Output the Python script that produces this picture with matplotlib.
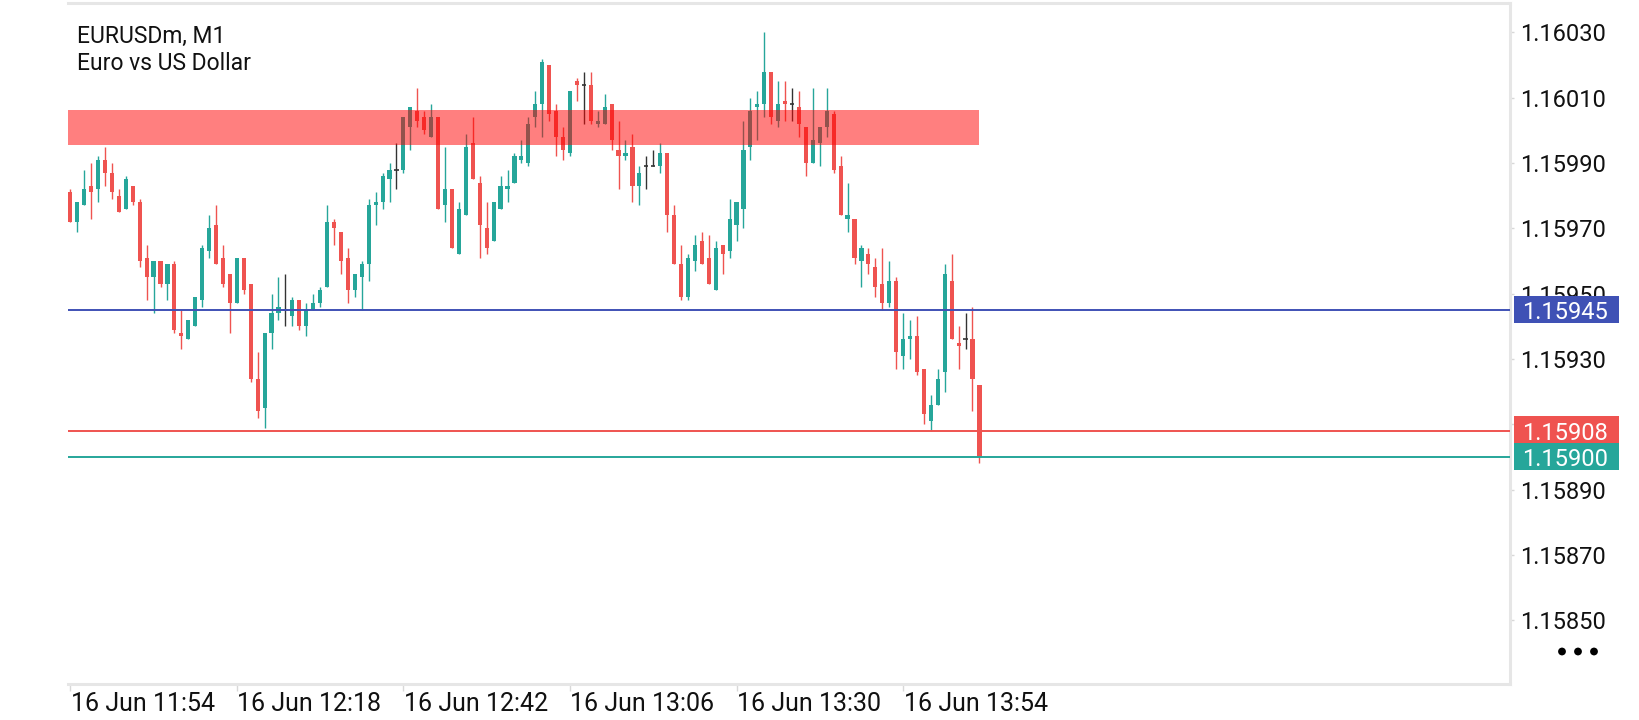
import matplotlib
matplotlib.use("Agg")
import matplotlib.pyplot as plt
import matplotlib.transforms as mtransforms
from matplotlib.patches import Rectangle, Circle
import numpy as np

plt.rcParams['font.family'] = ['Roboto', 'DejaVu Sans']

# ---------------- data ----------------
title_line1 = "EURUSDm, M1"
title_line2 = "Euro vs US Dollar"

open_ = [1.15981, 1.15972, 1.15977, 1.15983, 1.15982, 1.15991, 1.15987, 1.15980, 1.15976, 1.15983,
         1.15978, 1.15961, 1.15955, 1.15960, 1.15953, 1.15959, 1.15938, 1.15936, 1.15940, 1.15948,
         1.15963, 1.15971, 1.15961, 1.15956, 1.15947, 1.15961, 1.15953, 1.15924, 1.15915, 1.15938,
         1.15944, 1.15945, 1.15943, 1.15948, 1.15940, 1.15945, 1.15947, 1.15952, 1.15972, 1.15969,
         1.15961, 1.15951, 1.15955, 1.15959, 1.15977, 1.15978, 1.15985, 1.15988, 1.15988, 1.16001,
         1.16006, 1.16004, 1.15998, 1.16004, 1.15977, 1.15982, 1.15962, 1.15974, 1.15996, 1.15984,
         1.15970, 1.15966, 1.15976, 1.15982, 1.15984, 1.15991, 1.15990, 1.16004, 1.16008, 1.16020,
         1.16006, 1.15998, 1.15993, 1.16015, 1.16014, 1.16014, 1.16002, 1.16002, 1.16008, 1.15994,
         1.15992, 1.15995, 1.15983, 1.15989, 1.15989, 1.15989, 1.15993, 1.15974, 1.15959, 1.15949,
         1.15960, 1.15966, 1.15961, 1.15951, 1.15965, 1.15963, 1.15971, 1.15976, 1.15995, 1.16007,
         1.16008, 1.16018, 1.16003, 1.16009, 1.16008, 1.16007, 1.16001, 1.15990, 1.15996, 1.16001,
         1.16005, 1.15989, 1.15973, 1.15973, 1.15960, 1.15962, 1.15958, 1.15953, 1.15947, 1.15954,
         1.15931, 1.15936, 1.15937, 1.15927, 1.15911, 1.15916, 1.15926, 1.15954, 1.15935, 1.15936,
         1.15936, 1.15922]

high = [1.15982, 1.15978, 1.15988, 1.15990, 1.15992, 1.15995, 1.15990, 1.15982, 1.15986, 1.15983,
        1.15979, 1.15965, 1.15960, 1.15960, 1.15959, 1.15960, 1.15945, 1.15942, 1.15949, 1.15965,
        1.15974, 1.15977, 1.15965, 1.15956, 1.15961, 1.15961, 1.15953, 1.15932, 1.15938, 1.15950,
        1.15955, 1.15956, 1.15949, 1.15948, 1.15947, 1.15950, 1.15952, 1.15977, 1.15973, 1.15969,
        1.15964, 1.15956, 1.15960, 1.15979, 1.15981, 1.15987, 1.15990, 1.15996, 1.16004, 1.16007,
        1.16013, 1.16006, 1.16008, 1.16004, 1.15995, 1.15982, 1.15978, 1.15999, 1.16004, 1.15986,
        1.15978, 1.15978, 1.15986, 1.15988, 1.15993, 1.15997, 1.16004, 1.16012, 1.16022, 1.16020,
        1.16008, 1.16001, 1.16012, 1.16016, 1.16018, 1.16018, 1.16006, 1.16011, 1.16008, 1.16003,
        1.15997, 1.15999, 1.15989, 1.15992, 1.15994, 1.15996, 1.15993, 1.15977, 1.15965, 1.15962,
        1.15968, 1.15969, 1.15968, 1.15966, 1.15965, 1.15979, 1.15978, 1.16003, 1.16010, 1.16012,
        1.16030, 1.16018, 1.16015, 1.16015, 1.16013, 1.16012, 1.16001, 1.16013, 1.16001, 1.16013,
        1.16006, 1.15992, 1.15984, 1.15973, 1.15965, 1.15964, 1.15961, 1.15964, 1.15960, 1.15955,
        1.15944, 1.15942, 1.15943, 1.15927, 1.15919, 1.15927, 1.15959, 1.15962, 1.15940, 1.15944,
        1.15946, 1.15922]

low = [1.15972, 1.15969, 1.15977, 1.15973, 1.15978, 1.15983, 1.15979, 1.15975, 1.15976, 1.15977,
       1.15958, 1.15948, 1.15944, 1.15952, 1.15948, 1.15938, 1.15933, 1.15936, 1.15940, 1.15946,
       1.15961, 1.15959, 1.15952, 1.15938, 1.15947, 1.15950, 1.15923, 1.15912, 1.15909, 1.15933,
       1.15942, 1.15940, 1.15940, 1.15939, 1.15937, 1.15945, 1.15946, 1.15952, 1.15965, 1.15956,
       1.15947, 1.15949, 1.15945, 1.15954, 1.15971, 1.15976, 1.15978, 1.15982, 1.15987, 1.15994,
       1.16001, 1.15999, 1.15998, 1.15976, 1.15972, 1.15964, 1.15962, 1.15974, 1.15985, 1.15961,
       1.15962, 1.15966, 1.15976, 1.15978, 1.15984, 1.15990, 1.15989, 1.16001, 1.15998, 1.16003,
       1.15992, 1.15991, 1.15992, 1.16009, 1.16002, 1.16002, 1.16001, 1.16002, 1.15994, 1.15982,
       1.15991, 1.15978, 1.15977, 1.15982, 1.15989, 1.15987, 1.15969, 1.15959, 1.15948, 1.15948,
       1.15957, 1.15959, 1.15953, 1.15951, 1.15956, 1.15961, 1.15966, 1.15970, 1.15991, 1.15997,
       1.16004, 1.16002, 1.16001, 1.16003, 1.16003, 1.15998, 1.15986, 1.15990, 1.15989, 1.15998,
       1.15987, 1.15974, 1.15969, 1.15959, 1.15952, 1.15956, 1.15949, 1.15945, 1.15946, 1.15927,
       1.15927, 1.15930, 1.15925, 1.15910, 1.15908, 1.15916, 1.15920, 1.15936, 1.15927, 1.15933,
       1.15914, 1.15898]

close = [1.15972, 1.15978, 1.15982, 1.15981, 1.15991, 1.15987, 1.15981, 1.15975, 1.15985, 1.15978,
         1.15960, 1.15955, 1.15960, 1.15953, 1.15959, 1.15939, 1.15937, 1.15942, 1.15949, 1.15964,
         1.15970, 1.15959, 1.15953, 1.15947, 1.15961, 1.15951, 1.15924, 1.15914, 1.15938, 1.15944,
         1.15946, 1.15945, 1.15948, 1.15940, 1.15945, 1.15947, 1.15951, 1.15972, 1.15970, 1.15960,
         1.15951, 1.15956, 1.15959, 1.15977, 1.15978, 1.15986, 1.15988, 1.15988, 1.16004, 1.16007,
         1.16003, 1.16000, 1.16004, 1.15976, 1.15982, 1.15964, 1.15976, 1.15995, 1.15985, 1.15971,
         1.15964, 1.15978, 1.15983, 1.15983, 1.15992, 1.15992, 1.16002, 1.16008, 1.16021, 1.16005,
         1.15998, 1.15994, 1.16012, 1.16014, 1.16014, 1.16003, 1.16003, 1.16007, 1.15997, 1.15992,
         1.15993, 1.15983, 1.15987, 1.15989, 1.15989, 1.15993, 1.15974, 1.15959, 1.15949, 1.15961,
         1.15965, 1.15959, 1.15953, 1.15964, 1.15962, 1.15973, 1.15978, 1.15994, 1.16006, 1.16008,
         1.16018, 1.16004, 1.16008, 1.16008, 1.16008, 1.16002, 1.15990, 1.15997, 1.16001, 1.16006,
         1.15988, 1.15974, 1.15974, 1.15961, 1.15964, 1.15959, 1.15952, 1.15947, 1.15954, 1.15932,
         1.15936, 1.15937, 1.15926, 1.15913, 1.15916, 1.15924, 1.15956, 1.15936, 1.15934, 1.15936,
         1.15924, 1.15900]

time_label_index = [0, 24, 48, 72, 96, 120]
time_labels = ["16 Jun 11:54", "16 Jun 12:18", "16 Jun 12:42",
               "16 Jun 13:06", "16 Jun 13:30", "16 Jun 13:54"]

y_ticks = [1.15850, 1.15870, 1.15890, 1.15910, 1.15930, 1.15950,
           1.15970, 1.15990, 1.16010, 1.16030]

zone_low = 1.159955
zone_high = 1.160062

level_values = [1.15945, 1.15908, 1.15900]
level_colors = ["#3f51b5", "#ef5350", "#26a69a"]

# ---------------- style ----------------
UP = "#26a69a"
DOWN = "#ef5350"
DOJI = "#333333"
BORDER = "#e6e6e6"

W, H, DPI = 1640, 720, 100
fig = plt.figure(figsize=(W / DPI, H / DPI), dpi=DPI)
fig.patch.set_facecolor("white")

ax_l, ax_r, ax_t, ax_b = 68, 1510, 3, 684
ax = fig.add_axes([ax_l / W, 1 - ax_b / H, (ax_r - ax_l) / W, (ax_b - ax_t) / H])

o = np.array(open_)
h = np.array(high)
l = np.array(low)
c = np.array(close)
n = len(o)
x = np.arange(n)

spacing = 6.94
x_left = -0.33
x_right = x_left + (ax_r - ax_l) / spacing
y_min, y_max = 1.1583045, 1.160390
ax.set_xlim(x_left, x_right)
ax.set_ylim(y_min, y_max)

colors = np.where(c > o, UP, np.where(c < o, DOWN, DOJI))

# wicks
ax.vlines(x, l, h, colors=colors, linewidth=1.0, zorder=2)
# bodies
body_mask = c != o
ax.bar(x[body_mask], np.abs(c - o)[body_mask], bottom=np.minimum(o, c)[body_mask],
       width=0.6, color=colors[body_mask], linewidth=0, zorder=3)
# doji
doji_mask = c == o
ax.hlines(o[doji_mask], x[doji_mask] - 0.3, x[doji_mask] + 0.3, colors=DOJI,
          linewidth=1.2, zorder=3)

# zone (semi-transparent, over candles), ends at the last candle
zone_right = n - 1
ax.add_patch(Rectangle((x_left - 1, zone_low), zone_right - x_left + 1, zone_high - zone_low,
                       facecolor="red", alpha=0.5, linewidth=0, zorder=5))

# level lines
for val, col in zip(level_values, level_colors):
    ax.axhline(val, color=col, linewidth=1.4, zorder=6)

# axes styling
for side in ["top", "right", "bottom"]:
    ax.spines[side].set_color(BORDER)
    ax.spines[side].set_linewidth(2.2)
ax.spines["left"].set_visible(False)

ax.yaxis.tick_right()
ax.set_yticks(y_ticks)
ax.set_yticklabels([f"{v:.5f}" for v in y_ticks])
ax.tick_params(axis="y", which="both", length=3, width=1, color="#d8d8d8",
               pad=4, labelsize=17, labelcolor="#111111", left=False, right=True)

ax.set_xticks(time_label_index)
ax.set_xticklabels(time_labels)
ax.tick_params(axis="x", which="both", length=5, width=1, color="#d8d8d8",
               pad=0.5, labelsize=18, labelcolor="#111111")
offset = mtransforms.ScaledTranslation(0.5 / DPI, 0, fig.dpi_scale_trans)
for lab in ax.get_xticklabels():
    lab.set_horizontalalignment("left")
    lab.set_transform(lab.get_transform() + offset)

# price boxes on the right
blend = mtransforms.blended_transform_factory(fig.transFigure, ax.transData)
px_y = (y_max - y_min) / (ax_b - ax_t)
for val, col in zip(level_values, level_colors):
    rect = Rectangle((1514 / W, val - 13.2 * px_y), 105 / W, 27.5 * px_y, transform=blend,
                     facecolor=col, edgecolor="none", zorder=10)
    fig.add_artist(rect)
    fig.text(1522 / W, val, f"{val:.5f}", transform=blend, color="white", fontsize=17,
             ha="left", va="center_baseline", zorder=11)

# title
fig.text(77 / W, 1 - 42.7 / H, title_line1, fontsize=16.5, color="#111111", ha="left", va="baseline")
fig.text(77 / W, 1 - 70 / H, title_line2, fontsize=16.5, color="#111111", ha="left", va="baseline")

# menu dots
for dx in (1562, 1578, 1594):
    fig.add_artist(Circle((dx / DPI, (H - 651.5) / DPI), 3.9 / DPI, transform=fig.dpi_scale_trans,
                          facecolor="black", edgecolor="none"))

fig.savefig("out.png", dpi=DPI, facecolor="white")
